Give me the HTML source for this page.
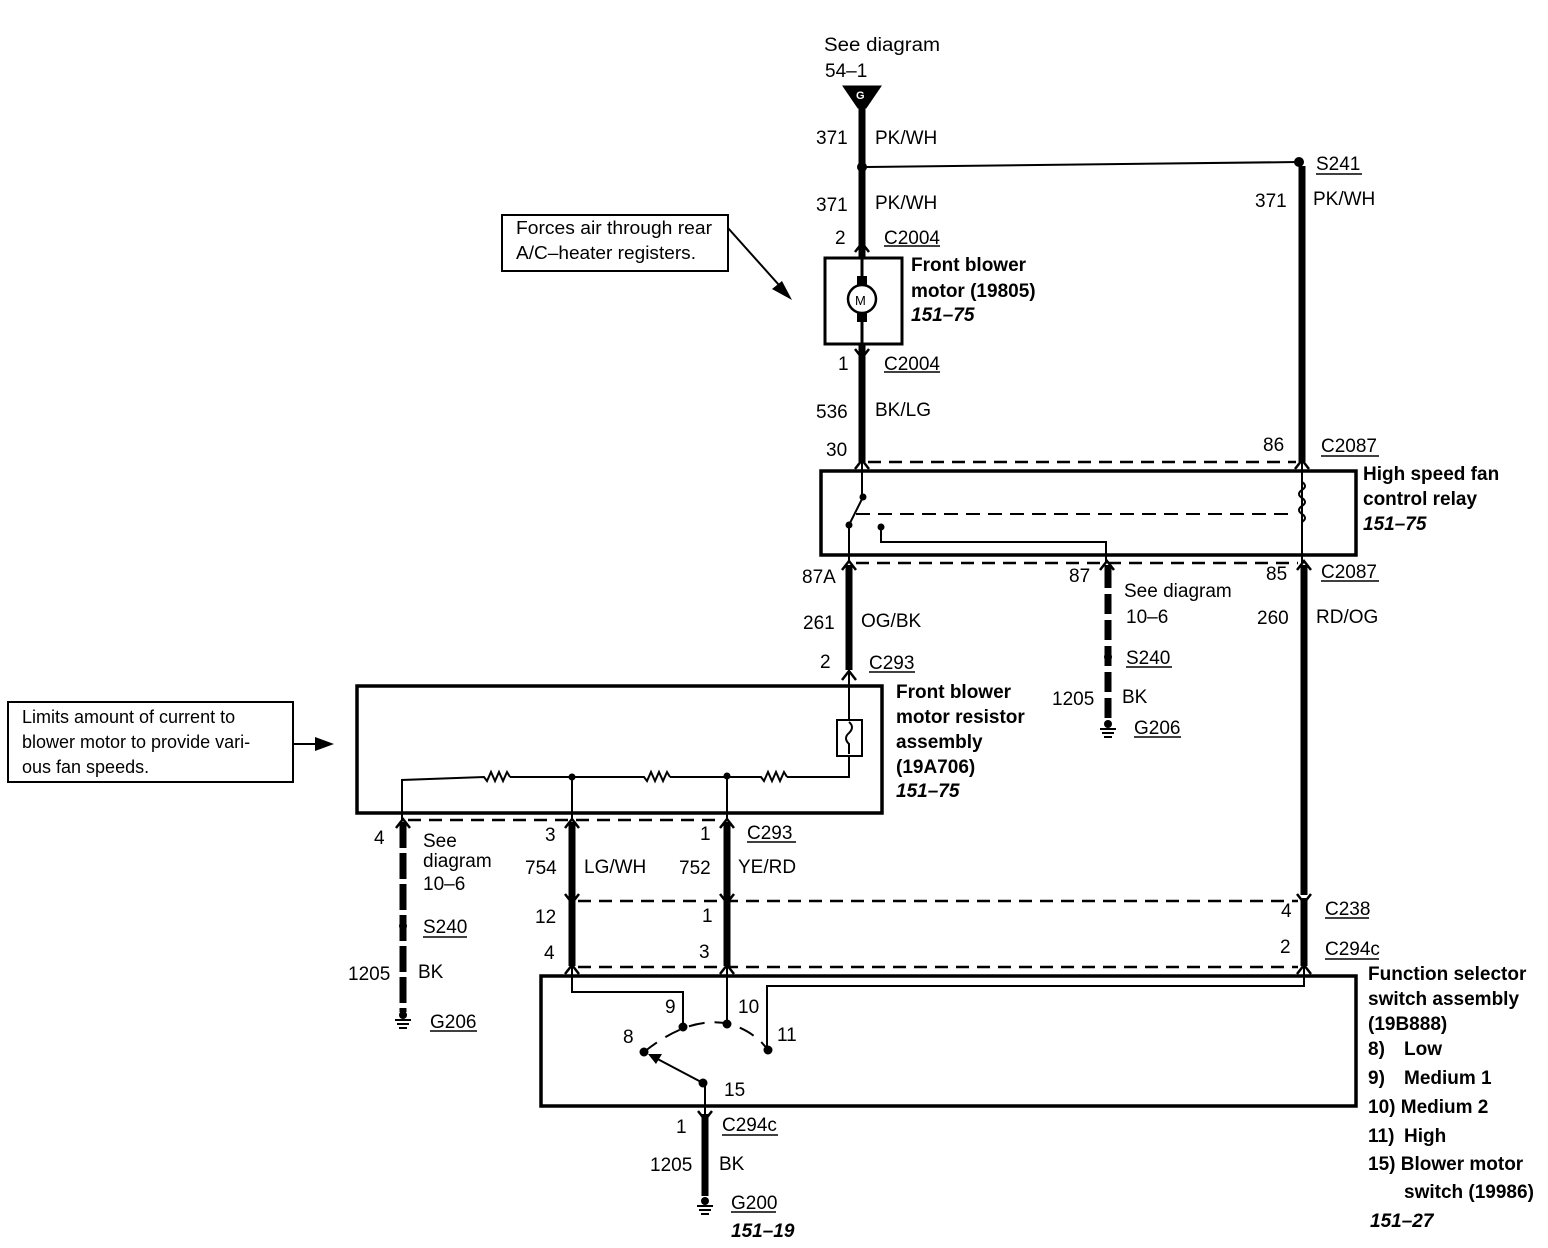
<!DOCTYPE html>
<html><head><meta charset="utf-8"><style>
html,body{margin:0;padding:0;background:#fff}
svg{display:block}
text{font-family:"Liberation Sans",Arial,sans-serif;font-size:19px;fill:#000}
.b{font-weight:bold;font-size:19px}
.i{font-weight:bold;font-style:italic;font-size:19px}
.n{font-size:18px}
</style></head><body>
<svg width="1548" height="1248" viewBox="0 0 1548 1248" xmlns="http://www.w3.org/2000/svg">
<g stroke="#000" fill="none" stroke-linecap="butt">
<!-- top source -->
<path d="M843 86 L881 86 L866 108 L858 108 Z" fill="#000"/>
<line x1="862" y1="104" x2="862" y2="462" stroke-width="7"/>
<circle cx="862" cy="167" r="5" fill="#000" stroke="none"/>
<line x1="866" y1="167" x2="1298" y2="162" stroke-width="2"/>
<circle cx="1299" cy="162" r="5" fill="#000" stroke="none"/>
<line x1="1302" y1="166" x2="1302" y2="462" stroke-width="7"/>
<!-- motor box -->
<rect x="825" y="258" width="77" height="86" stroke-width="3" fill="#fff"/>
<line x1="862" y1="245" x2="862" y2="360" stroke-width="3"/>
<rect x="857" y="276" width="10" height="46" fill="#000" stroke="none"/>
<circle cx="862" cy="299" r="14" stroke-width="2.5" fill="#fff"/>
<path d="M855 252 L862 243 L869 252" stroke-width="2.5"/>
<path d="M855 349 L862 358 L869 349" stroke-width="2.5"/>
<!-- relay -->
<path d="M855 469 L862 460 L869 469" stroke-width="2.5"/>
<path d="M1295 469 L1302 460 L1309 469" stroke-width="2.5"/>
<line x1="868" y1="462" x2="1296" y2="462" stroke-width="2.5" stroke-dasharray="13,8"/>
<rect x="821" y="471" width="535" height="84" stroke-width="3.5" fill="#fff"/>
<line x1="862" y1="462" x2="862" y2="496" stroke-width="2"/>
<line x1="863" y1="497" x2="849" y2="525" stroke-width="2"/>
<circle cx="863" cy="497" r="3" fill="#000"/>
<circle cx="849" cy="525" r="3" fill="#000"/>
<line x1="849" y1="525" x2="849" y2="563" stroke-width="2"/>
<line x1="856" y1="514" x2="1296" y2="514" stroke-width="2" stroke-dasharray="14,8"/>
<path d="M881 528 L881 542 L1106 542 L1106 563" stroke-width="2"/>
<circle cx="881" cy="527" r="3" fill="#000"/>
<line x1="1302" y1="462" x2="1302" y2="563" stroke-width="2"/>
<path d="M1302 482 q6 4 0 8 q-6 4 0 8 q6 4 0 8 q-6 4 0 8 q6 4 0 8" stroke-width="2" fill="none"/>
<line x1="856" y1="563" x2="1298" y2="563" stroke-width="2.5" stroke-dasharray="13,8"/>
<path d="M842 570 L849 561 L856 570" stroke-width="2.5"/>
<path d="M1100 570 L1107 561 L1114 570" stroke-width="2.5"/>
<path d="M1297 570 L1304 561 L1311 570" stroke-width="2.5"/>
<line x1="849" y1="565" x2="849" y2="670" stroke-width="7"/>
<line x1="1108" y1="565" x2="1108" y2="588" stroke-width="7"/>
<line x1="1108" y1="594" x2="1108" y2="720" stroke-width="7" stroke-dasharray="20,6"/>
<circle cx="1108" cy="657" r="4" fill="#000" stroke="none"/>
<line x1="1304" y1="565" x2="1304" y2="895" stroke-width="7"/>
<!-- ground 1108 -->
<circle cx="1108" cy="724" r="4" fill="#000" stroke="none"/>
<line x1="1100" y1="729" x2="1116" y2="729" stroke-width="2"/>
<line x1="1102" y1="733" x2="1114" y2="733" stroke-width="2"/>
<line x1="1104" y1="737" x2="1112" y2="737" stroke-width="2"/>
<!-- resistor box -->
<path d="M842 680 L849 671 L856 680" stroke-width="2.5"/>
<rect x="357" y="686" width="525" height="127" stroke-width="3.5" fill="#fff"/>
<line x1="849" y1="672" x2="849" y2="720" stroke-width="2"/>
<rect x="837" y="720" width="25" height="36" stroke-width="2" fill="#fff"/>
<path d="M849 722 q6 5 0 11 q-6 5 0 11 l0 10" stroke-width="2"/>
<path d="M849 756 L849 777 L787 777" stroke-width="2"/>
<path d="M787 777 l-3 -5 l-4 9 l-4 -9 l-4 9 l-4 -9 l-4 9 l-3 -4 L727 777 L670 777" stroke-width="2"/>
<path d="M670 777 l-3 -5 l-4 9 l-4 -9 l-4 9 l-4 -9 l-4 9 l-3 -4 L572 777 L510 777" stroke-width="2"/>
<path d="M510 777 l-3 -5 l-4 9 l-4 -9 l-4 9 l-4 -9 l-4 9 l-3 -4 L402 780 L402 821" stroke-width="2"/>
<line x1="572" y1="777" x2="572" y2="821" stroke-width="2"/>
<line x1="727" y1="777" x2="727" y2="821" stroke-width="2"/>
<circle cx="572" cy="777" r="3" fill="#000"/>
<circle cx="727" cy="776" r="3" fill="#000"/>
<line x1="408" y1="820" x2="722" y2="820" stroke-width="2.5" stroke-dasharray="13,8"/>
<path d="M396 828 L403 819 L410 828" stroke-width="2.5"/>
<path d="M565 828 L572 819 L579 828" stroke-width="2.5"/>
<path d="M720 828 L727 819 L734 828" stroke-width="2.5"/>
<line x1="403" y1="822" x2="403" y2="1012" stroke-width="7" stroke-dasharray="26,5"/>
<circle cx="403" cy="926" r="4" fill="#000" stroke="none"/>
<circle cx="403" cy="1015" r="4" fill="#000" stroke="none"/>
<line x1="395" y1="1020" x2="411" y2="1020" stroke-width="2"/>
<line x1="397" y1="1024" x2="409" y2="1024" stroke-width="2"/>
<line x1="399" y1="1028" x2="407" y2="1028" stroke-width="2"/>
<line x1="572" y1="822" x2="572" y2="966" stroke-width="7"/>
<line x1="727" y1="822" x2="727" y2="966" stroke-width="7"/>
<line x1="578" y1="901" x2="1298" y2="901" stroke-width="2.5" stroke-dasharray="13,8"/>
<line x1="578" y1="967" x2="1298" y2="967" stroke-width="2.5" stroke-dasharray="13,8"/>
<path d="M565 894 L572 903 L579 894" stroke-width="2.5"/>
<path d="M720 894 L727 903 L734 894" stroke-width="2.5"/>
<path d="M1297 894 L1304 903 L1311 894" stroke-width="2.5"/>
<path d="M565 974 L572 965 L579 974" stroke-width="2.5"/>
<path d="M720 974 L727 965 L734 974" stroke-width="2.5"/>
<path d="M1297 974 L1304 965 L1311 974" stroke-width="2.5"/>
<line x1="1304" y1="898" x2="1304" y2="966" stroke-width="7"/>
<!-- function box -->
<rect x="541" y="976" width="815" height="130" stroke-width="3.5" fill="#fff"/>
<path d="M572 966 L572 992 L683 992 L683 1027" stroke-width="2"/>
<line x1="727" y1="966" x2="727" y2="1024" stroke-width="2"/>
<path d="M1304 966 L1304 986 L767 986 L767 1050" stroke-width="2"/>
<path d="M644 1052 Q690 1015 730 1024 Q755 1032 768 1050" stroke-width="2" stroke-dasharray="16,10"/>
<circle cx="683" cy="1027" r="4" fill="#000"/>
<circle cx="727" cy="1024" r="4" fill="#000"/>
<circle cx="768" cy="1050" r="4" fill="#000"/>
<circle cx="644" cy="1052" r="4" fill="#000"/>
<circle cx="703" cy="1083" r="4" fill="#000"/>
<line x1="703" y1="1083" x2="650" y2="1055" stroke-width="2"/>
<path d="M648 1054 L662 1054 L656 1064 Z" fill="#000" stroke="none"/>
<line x1="705" y1="1083" x2="705" y2="1196" stroke-width="2"/>
<path d="M698 1111 L705 1120 L712 1111" stroke-width="2.5"/>
<line x1="705" y1="1114" x2="705" y2="1196" stroke-width="7"/>
<circle cx="705" cy="1201" r="4" fill="#000" stroke="none"/>
<line x1="697" y1="1206" x2="713" y2="1206" stroke-width="2"/>
<line x1="699" y1="1210" x2="711" y2="1210" stroke-width="2"/>
<line x1="701" y1="1214" x2="709" y2="1214" stroke-width="2"/>
<!-- annotations -->
<rect x="502" y="215" width="226" height="56" stroke-width="2" fill="#fff"/>
<line x1="728" y1="228" x2="787" y2="294" stroke-width="2"/>
<path d="M792 300 L772 289 L782 281 Z" fill="#000" stroke="none"/>
<rect x="8" y="702" width="285" height="80" stroke-width="2" fill="#fff"/>
<line x1="293" y1="744" x2="320" y2="744" stroke-width="2"/>
<path d="M334 744 L315 737 L315 751 Z" fill="#000" stroke="none"/>
<!-- underlines -->
<g stroke-width="1.5">
<line x1="1316" y1="174" x2="1362" y2="174"/>
<line x1="884" y1="246" x2="940" y2="246"/>
<line x1="884" y1="372" x2="940" y2="372"/>
<line x1="1321" y1="456" x2="1379" y2="456"/>
<line x1="1321" y1="581" x2="1379" y2="581"/>
<line x1="869" y1="672" x2="915" y2="672"/>
<line x1="1126" y1="667" x2="1172" y2="667"/>
<line x1="1134" y1="737" x2="1181" y2="737"/>
<line x1="747" y1="842" x2="796" y2="842"/>
<line x1="423" y1="937" x2="467" y2="937"/>
<line x1="430" y1="1031" x2="477" y2="1031"/>
<line x1="1325" y1="918" x2="1369" y2="918"/>
<line x1="1325" y1="959" x2="1379" y2="959"/>
<line x1="722" y1="1135" x2="778" y2="1135"/>
<line x1="731" y1="1212" x2="776" y2="1212"/>
</g>
</g>
<!-- text -->
<text x="824" y="51" textLength="116" lengthAdjust="spacingAndGlyphs">See diagram</text>
<text x="825" y="77">54–1</text>
<text x="856" y="99" class="b" style="font-size:11px;fill:#fff">G</text>
<text x="816" y="144">371</text><text x="875" y="144">PK/WH</text>
<text x="816" y="211">371</text><text x="875" y="209">PK/WH</text>
<text x="1316" y="170">S241</text>
<text x="1255" y="207">371</text><text x="1313" y="205">PK/WH</text>
<text x="835" y="244">2</text><text x="884" y="244">C2004</text>
<text x="911" y="271" class="b">Front blower</text>
<text x="911" y="297" class="b">motor (19805)</text>
<text x="911" y="321" class="i">151–75</text>
<text x="855" y="305" style="font-size:13px">M</text>
<text x="838" y="370">1</text><text x="884" y="370">C2004</text>
<text x="816" y="418">536</text><text x="875" y="416">BK/LG</text>
<text x="826" y="456">30</text>
<text x="1263" y="451">86</text><text x="1321" y="452">C2087</text>
<text x="1363" y="480" class="b">High speed fan</text>
<text x="1363" y="505" class="b">control relay</text>
<text x="1363" y="530" class="i">151–75</text>
<text x="802" y="583">87A</text>
<text x="1069" y="582">87</text>
<text x="1266" y="580">85</text><text x="1321" y="578">C2087</text>
<text x="1124" y="597">See diagram</text>
<text x="1126" y="623">10–6</text>
<text x="803" y="629">261</text><text x="861" y="627">OG/BK</text>
<text x="1257" y="624">260</text><text x="1316" y="623">RD/OG</text>
<text x="1126" y="664">S240</text>
<text x="820" y="668">2</text><text x="869" y="669">C293</text>
<text x="896" y="698" class="b">Front blower</text>
<text x="896" y="723" class="b">motor resistor</text>
<text x="896" y="748" class="b">assembly</text>
<text x="896" y="773" class="b">(19A706)</text>
<text x="896" y="797" class="i">151–75</text>
<text x="1052" y="705">1205</text><text x="1122" y="703">BK</text>
<text x="1134" y="734">G206</text>
<text x="516" y="234" class="n" textLength="196" lengthAdjust="spacingAndGlyphs">Forces air through rear</text>
<text x="516" y="259" class="n" textLength="180" lengthAdjust="spacingAndGlyphs">A/C–heater registers.</text>
<text x="22" y="723" class="n">Limits amount of current to</text>
<text x="22" y="748" class="n">blower motor to provide vari-</text>
<text x="22" y="773" class="n">ous fan speeds.</text>
<text x="374" y="844">4</text>
<text x="423" y="847">See</text>
<text x="423" y="867">diagram</text>
<text x="423" y="890">10–6</text>
<text x="545" y="841">3</text>
<text x="700" y="840">1</text><text x="747" y="839">C293</text>
<text x="525" y="874">754</text><text x="584" y="873">LG/WH</text>
<text x="679" y="874">752</text><text x="738" y="873">YE/RD</text>
<text x="535" y="923">12</text><text x="702" y="922">1</text>
<text x="1281" y="917">4</text><text x="1325" y="915">C238</text>
<text x="423" y="933">S240</text>
<text x="544" y="959">4</text><text x="699" y="958">3</text>
<text x="1280" y="953">2</text><text x="1325" y="955">C294c</text>
<text x="348" y="980">1205</text><text x="418" y="978">BK</text>
<text x="430" y="1028">G206</text>
<text x="1368" y="980" class="b">Function selector</text>
<text x="1368" y="1005" class="b">switch assembly</text>
<text x="1368" y="1030" class="b">(19B888)</text>
<text x="1368" y="1055" class="b">8)</text><text x="1404" y="1055" class="b">Low</text>
<text x="1368" y="1084" class="b">9)</text><text x="1404" y="1084" class="b">Medium 1</text>
<text x="1368" y="1113" class="b">10) Medium 2</text>
<text x="1368" y="1142" class="b">11)</text><text x="1404" y="1142" class="b">High</text>
<text x="1368" y="1170" class="b">15) Blower motor</text>
<text x="1404" y="1198" class="b">switch (19986)</text>
<text x="1370" y="1227" class="i">151–27</text>
<text x="665" y="1013">9</text>
<text x="738" y="1013">10</text>
<text x="623" y="1043">8</text>
<text x="777" y="1041">11</text>
<text x="724" y="1096">15</text>
<text x="676" y="1133">1</text><text x="722" y="1131">C294c</text>
<text x="650" y="1171">1205</text><text x="719" y="1170">BK</text>
<text x="731" y="1209">G200</text>
<text x="731" y="1237" class="i">151–19</text>
</svg>
</body></html>
